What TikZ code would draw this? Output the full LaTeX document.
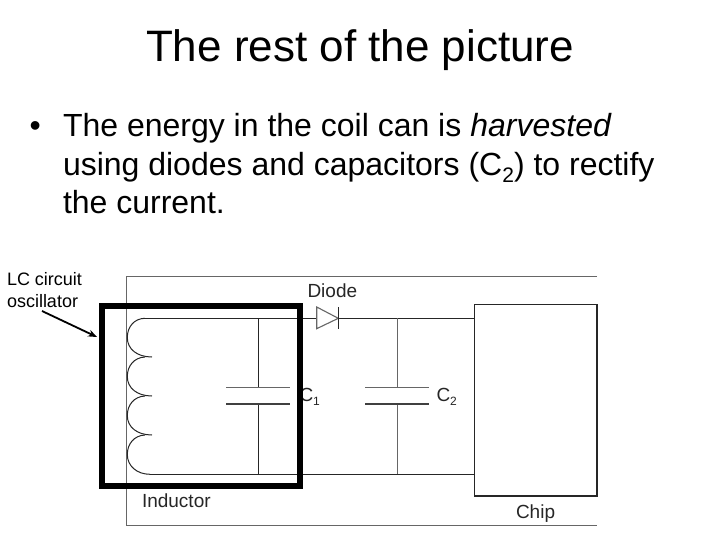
\documentclass[tikz,border=0pt]{standalone}
\usepackage{fontspec}
\setmainfont{Liberation Sans}
\usetikzlibrary{arrows.meta}
\tikzset{
  x=1pt,y=-1pt,
  txt/.style={anchor=base west,inner sep=0pt,outer sep=0pt,text=black},
  titletxt/.style={txt,font=\fontsize{44}{44}\selectfont},
  bodytxt/.style={txt,font=\fontsize{32}{32}\selectfont},
  lbl/.style={txt,font=\fontsize{19}{19}\selectfont,text=black!85},
  callout/.style={txt,font=\fontsize{18}{18}\selectfont},
  wire/.style={draw=black!85,line width=1pt},
  greywire/.style={draw=black!60,line width=1.1pt},
  frame/.style={draw=black!60,line width=0.9pt},
  plate/.style={draw=black!60,line width=1.2pt},
  plateb/.style={draw=black!75,line width=1.5pt},
  heavybox/.style={draw=black,line width=6pt,miter limit=10},
  chipbox/.style={draw=black!85,line width=1.2pt,fill=white,minimum width=122.7pt,minimum height=191.7pt,inner sep=0pt,outer sep=0pt},
  pointer/.style={draw=black,line width=1.8pt,-{Stealth[length=9pt,width=7pt]}}
}
\begin{document}
\begin{tikzpicture}
\useasboundingbox (0,0) rectangle (720,540);
\fill[white] (0,0) rectangle (720,540);
% heading and bullet text
\node[titletxt] (title) at (146,61.5) {The rest of the picture};
\node[bodytxt] (bullet) at (29.5,137) {•};
\node[bodytxt] (l1) at (63,137) {The energy in the coil can is \textit{harvested}};
\node[bodytxt] (l2) at (63,176) {using diodes and capacitors (C\raisebox{-0.2em}{\fontsize{21}{21}\selectfont 2}) to rectify};
\node[bodytxt] (l3) at (63,214) {the current.};
% outer frame of the picture
\coordinate (fa) at (597,276);
\coordinate (fb) at (126.5,276);
\coordinate (fc) at (126.5,525.3);
\coordinate (fd) at (597,525.3);
\draw[frame] (fa) -- (fb) -- (fc) -- (fd);
% chip
\node[chipbox] (chip) at (535.7,400.2) {};
\coordinate (chipT) at (474.3,318.3);
\coordinate (chipB) at (474.3,474.3);
% junctions
\coordinate (coilT) at (145,318.3);
\coordinate (c1T) at (258.3,318.3);
\coordinate (dA) at (316.7,318.3);
\coordinate (dK) at (338.3,318.3);
\coordinate (c2T) at (397.3,318.3);
\coordinate (coilB) at (150,474.3);
\coordinate (c1B) at (258.3,474.3);
\coordinate (c2B) at (397.3,474.3);
\coordinate (c1p) at (258.3,387.7);
\coordinate (c1q) at (258.3,404);
\coordinate (c2p) at (397.3,387.7);
\coordinate (c2q) at (397.3,404);
\coordinate (k1) at (152,357);
\coordinate (k2) at (152,396);
\coordinate (k3) at (152,435);
% wires
\draw[wire] (coilT) -- (c1T) -- (dA);
\draw[wire] (dK) -- (c2T) -- (chipT);
\draw[wire] (coilB) -- (c1B) -- (c2B) -- (chipB);
\draw[wire] (c1T) -- (c1p);
\draw[wire] (c1q) -- (c1B);
\draw[greywire] (c2T) -- (c2p);
\draw[greywire] (c2q) -- (c2B);
% capacitors
\draw[plate] (226,387.7) -- (290,387.7);
\draw[plateb] (226,404) -- (290,404);
\draw[plate] (365.3,387.7) -- (429.3,387.7);
\draw[plateb] (365.3,404) -- (429.3,404);
% diode
\draw[greywire] (dA |- 0,307) -- (dK) -- (dA |- 0,328.7) -- cycle;
\draw[wire] (338.3,307) -- (338.3,328.7);
% coil
\draw[wire] (coilT) .. controls (134,318.5) and (127.3,327) .. (127.3,337.5)
  .. controls (127.3,349) and (137,357) .. (k1);
\draw[wire] (145,357) .. controls (134,357.5) and (127.3,366) .. (127.3,376.5)
  .. controls (127.3,388) and (137,396) .. (k2);
\draw[wire] (145,396) .. controls (134,396.5) and (127.3,405) .. (127.3,415.5)
  .. controls (127.3,427) and (137,435) .. (k3);
\draw[wire] (145,435) .. controls (134,435.5) and (127.3,444) .. (127.3,454.5)
  .. controls (127.3,466) and (137,474.3) .. (coilB);
% labels beneath the heavy box
\node[lbl] (c1) at (299.5,401.5) {C\raisebox{-0.2em}{\fontsize{12}{12}\selectfont 1}};
% heavy box
\draw[heavybox] (102,306) rectangle (300,485.7);
% labels
\node[lbl] (diode) at (307.5,297) {Diode};
\node[lbl] (ind) at (142,507.5) {Inductor};
\node[lbl] (chiplbl) at (516,518) {Chip};
\node[lbl] (c2) at (436.5,401.5) {C\raisebox{-0.2em}{\fontsize{12}{12}\selectfont 2}};
\node[callout] (lc) at (7,285) {LC circuit};
\node[callout] (osc) at (7,307) {oscillator};
\coordinate (tipA) at (42,311);
\coordinate (tipB) at (97,337);
\draw[pointer] (tipA) -- (tipB);
\end{tikzpicture}
\end{document}
